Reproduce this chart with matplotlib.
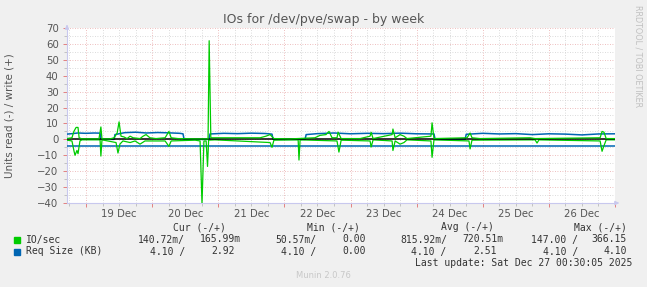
import numpy as np
import matplotlib
matplotlib.use("Agg")
import matplotlib.pyplot as plt
from matplotlib.patches import Rectangle
from matplotlib.ticker import FixedLocator, FuncFormatter

# hours since 19 Dec 00:00
io_write_t = [-6.9, -5.1, -4.4, -3.6, -2.9, -2.5, -1.5, 4.7, 5.4, 5.8,
              8.7, 10.2, 11.3, 12.0, 12.7, 13.8, 14.9, 16.0, 17.1, 19.6,
              20.7, 21.8, 23.2, 25.4, 28.7, 30.1, 30.9, 33.4, 39.6, 44.3,
              44.7, 45.3, 52.3, 63.2, 65.3, 66.8, 68.2, 74.1, 83.1, 84.9,
              87.1, 88.2, 89.3, 91.1, 91.5, 92.6, 99.5, 103.1, 103.5, 104.2,
              111.1, 111.4, 112.2, 114.0, 115.4, 116.5, 125.2, 125.6, 126.3, 138.3,
              139.4, 140.1, 143.0, 161.2, 163.0, 186.6, 187.3, 188.0, 188.8, 192.0]
io_write = [0.5, 1, 5, 7.5, 7.5, 1, 0.3, 0.3, 7.8, 0.3,
            0.3, 1, 4, 11, 2, 1.5, 0.5, 2, 1, 0.5,
            2, 3, 1, 0.5, 1, 5, 1, 0.5, 0.3, 0.3,
            62, 1, 1, 1, 2, 3, 0.5, 0.3, 1, 2.5,
            3, 5, 1, 1, 4.5, 0.5, 0.5, 2, 4.4, 0.5,
            3, 6.5, 1, 3, 2, 0.5, 2, 10.4, 0.5, 1,
            4, 1, 0.5, 1, 0.5, 1, 5, 4.5, 0.5, 0.5]

io_read_t = [-6.9, -5.1, -4.4, -4.0, -3.3, -2.9, -2.2, -1.5, 5.1, 5.4,
             5.8, 10.9, 11.6, 12.3, 13.4, 16.0, 17.8, 19.6, 21.4, 28.7,
             30.1, 30.9, 39.6, 41.4, 42.1, 42.8, 43.6, 44.1, 44.5, 46.8,
             66.8, 67.5, 68.2, 77.0, 77.3, 77.7, 91.1, 91.8, 92.6, 103.1,
             103.5, 104.2, 111.1, 111.4, 112.2, 114.0, 115.4, 116.5, 125.2, 125.6,
             126.3, 139.0, 139.4, 140.1, 163.0, 163.7, 164.4, 186.6, 187.3, 188.0,
             188.8, 192.0]
io_read = [-0.5, -1, -7, -10, -7, -9, -1, -0.3, -0.3, -10.5,
           -0.3, -2, -8.6, -3, -1, -2, -1, -3, -1, -1,
           -4.4, -1, -0.5, -1, -40.5, -1, -1, -17, -0.5, -0.3,
           -2, -5, -0.5, -0.3, -13, -0.3, -1, -8, -0.5, -1,
           -4.8, -0.3, -1, -7, -1, -3, -2, -0.3, -1, -11.3,
           -0.3, -1, -6, -0.5, -0.3, -2.3, -0.3, -1, -7.5, -4,
           -0.3, -0.3]

req_write_t = [-6.9, -5.0, -3.0, 0.0, 3.0, 5.1, 5.4, 10.2, 10.5, 14.0,
               18.0, 22.0, 26.0, 30.0, 34.0, 35.2, 35.6, 44.6, 45.0, 50.0,
               55.0, 60.0, 65.0, 67.5, 67.9, 79.5, 79.9, 84.0, 90.0, 96.0,
               102.0, 108.0, 114.0, 120.0, 126.3, 126.7, 137.6, 138.0, 144.0, 150.0,
               156.0, 162.0, 168.0, 174.0, 180.0, 186.0, 192.0]
req_write = [3.3, 3.6, 4.0, 3.8, 4.0, 3.9, 0, 0, 3.0, 4.2,
             4.5, 4.0, 4.3, 4.1, 3.8, 3.5, 0, 0, 3.4, 3.8,
             3.6, 3.9, 3.7, 3.3, 0, 0, 3.0, 3.6, 4.0, 3.5,
             3.8, 3.6, 3.9, 3.5, 3.4, 0, 0, 3.2, 3.8, 3.4,
             3.6, 3.0, 3.5, 3.3, 2.8, 3.4, 3.5]

req_read_t = [-6.9, 192.0]
req_read = [-4.1, -4.1]

day_labels = ['19 Dec', '20 Dec', '21 Dec', '22 Dec', '23 Dec', '24 Dec', '25 Dec', '26 Dec']

header = ['Cur (-/+)', 'Min (-/+)', 'Avg (-/+)', 'Max (-/+)']
io_vals = ['140.72m/', '165.99m', '50.57m/', '0.00', '815.92m/', '720.51m', '147.00 /', '366.15']
req_vals = ['4.10 /', '2.92', '4.10 /', '0.00', '4.10 /', '2.51', '4.10 /', '4.10']

GREEN = '#00CC00'
BLUE = '#0066B3'
W, H = 647, 287


def fx(x):
    return x / W


def fy(y):
    return 1 - y / H


fig = plt.figure(figsize=(W / 100, H / 100), dpi=100, facecolor='#F0F0F0')
ax = fig.add_axes([fx(67), fy(203), 548 / W, 175 / H])
ax.set_facecolor('white')

ax.plot(req_read_t, req_read, color=BLUE, lw=1.1, zorder=3)
ax.plot(req_write_t, req_write, color=BLUE, lw=1.1, zorder=3)
ax.plot(io_read_t, io_read, color=GREEN, lw=0.9, zorder=4)
ax.axhline(0, color='black', lw=1.1, zorder=5)
ax.plot(io_write_t, io_write, color=GREEN, lw=0.9, zorder=6)

ax.set_xlim(-6.9, 192)
ax.set_ylim(-40, 70)

ax.xaxis.set_major_locator(FixedLocator(list(range(0, 193, 24))))
ax.xaxis.set_minor_locator(FixedLocator([h for h in range(-6, 192, 6) if h % 24]))
ax.xaxis.set_major_formatter(FuncFormatter(lambda v, p: ''))


def noon_label(v, p):
    h = int(round(v))
    if h % 24 == 12 and 0 <= h // 24 < len(day_labels):
        return day_labels[h // 24]
    return ''


ax.xaxis.set_minor_formatter(FuncFormatter(noon_label))
ax.yaxis.set_major_locator(FixedLocator(list(range(-40, 71, 10))))
ax.yaxis.set_minor_locator(FixedLocator(list(range(-35, 70, 10))))

ax.grid(which='major', color='#E8A8A8', linestyle=(0, (1, 2)), lw=0.6, zorder=1)
ax.grid(which='minor', color='#CFCFCF', linestyle=(0, (1, 2)), lw=0.6, zorder=1)
ax.set_axisbelow(True)

ax.tick_params(which='major', length=3, width=0.6, color='#E07070',
               labelsize=7.3, labelcolor='#555555', pad=3)
ax.tick_params(which='minor', length=2, width=0.6, color='#BBBBBB',
               labelsize=7.3, labelcolor='#555555', pad=3)
ax.tick_params(axis='x', which='minor', pad=2)

for s in ['top', 'right']:
    ax.spines[s].set_visible(False)
for s in ['left', 'bottom']:
    ax.spines[s].set_color('#C8C8EE')
    ax.spines[s].set_linewidth(0.8)

ax.annotate('', xy=(0, 1.035), xytext=(0, 0.99), xycoords='axes fraction',
            arrowprops=dict(arrowstyle='-|>', color='#C8C8EE', lw=0.8,
                            mutation_scale=6), annotation_clip=False)
ax.annotate('', xy=(1.013, 0), xytext=(0.995, 0), xycoords='axes fraction',
            arrowprops=dict(arrowstyle='-|>', color='#C8C8EE', lw=0.8,
                            mutation_scale=6), annotation_clip=False)

fig.text(fx(323.5), fy(19), 'IOs for /dev/pve/swap - by week', ha='center', va='center',
         fontsize=9, color='#555555')
fig.text(fx(10), fy(115.5), 'Units read (-) / write (+)', rotation=90, ha='center',
         va='center', fontsize=7.5, color='#555555')
fig.text(fx(638), fy(5), 'RRDTOOL / TOBI OETIKER', rotation=270, ha='center', va='top',
         fontsize=5.8, color='#C0C0C0')

mono = dict(family='DejaVu Sans Mono', fontsize=7.0, color='#333333', va='center')

for txt, xr in zip(header, [226, 360, 494, 627]):
    fig.text(fx(xr), fy(227.5), txt, ha='right', **mono)

row_ends = [185, 241, 316, 365.5, 447, 503, 578, 626.5]
row2_ends = [185, 235, 316, 365.5, 446, 496.5, 578, 626.5]

fig.add_artist(Rectangle((fx(13.5), fy(243)), 6 / W, 6 / H, color=GREEN,
                         transform=fig.transFigure))
fig.text(fx(26), fy(239.5), 'IO/sec', ha='left', **mono)
for txt, xr in zip(io_vals, row_ends):
    fig.text(fx(xr), fy(239.5), txt, ha='right', **mono)

fig.add_artist(Rectangle((fx(13.5), fy(255)), 6 / W, 6 / H, color=BLUE,
                         transform=fig.transFigure))
fig.text(fx(26), fy(251.5), 'Req Size (KB)', ha='left', **mono)
for txt, xr in zip(req_vals, row2_ends):
    fig.text(fx(xr), fy(251.5), txt, ha='right', **mono)

fig.text(fx(632.5), fy(263.5), 'Last update: Sat Dec 27 00:30:05 2025', ha='right', **mono)
fig.text(fx(323.5), fy(275.5), 'Munin 2.0.76', ha='center', va='center',
         fontsize=6, color='#C8C8C8')

fig.savefig('out.png', dpi=100, facecolor=fig.get_facecolor())
